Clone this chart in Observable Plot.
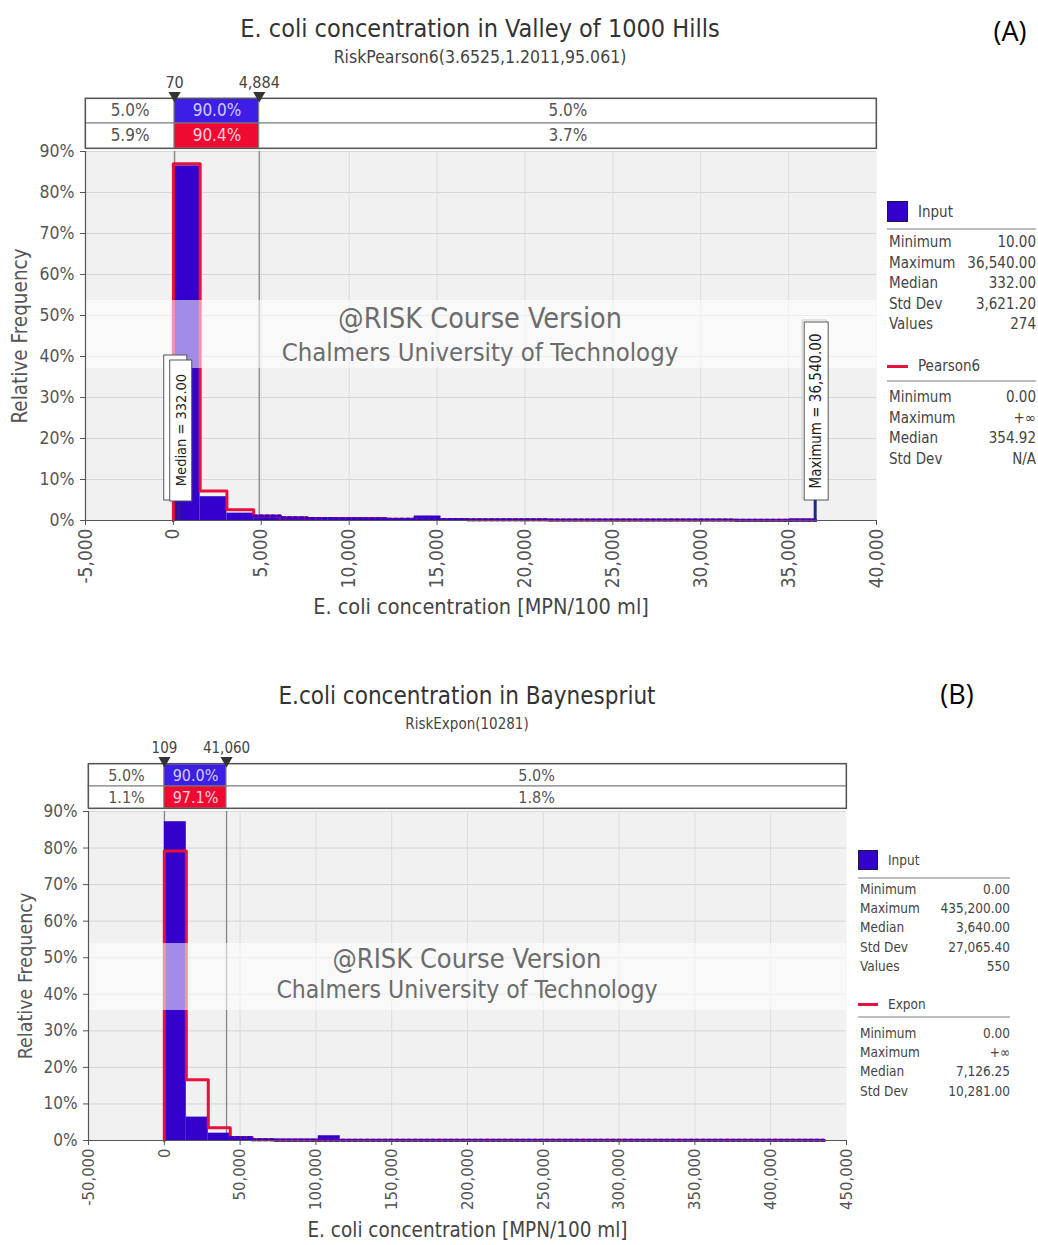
<!DOCTYPE html>
<html>
<head>
<meta charset="utf-8">
<script src="https://cdn.jsdelivr.net/npm/d3@7"></script>
<script src="https://cdn.jsdelivr.net/npm/@observablehq/plot@0.6"></script>
<style>
  body { margin: 0; background: #ffffff; }
  #root { position: relative; width: 1038px; height: 1245px; overflow: hidden; background: #ffffff;
          font-family: "DejaVu Sans Condensed", "DejaVu Sans", sans-serif; font-stretch: condensed; color: #444; }
  .t { position: absolute; white-space: nowrap; }
</style>
</head>
<body>
<div id="root"></div>
<script>
// ---------------- DATA ----------------
const yTicks = [0, 10, 20, 30, 40, 50, 60, 70, 80, 90];

// Panel A
const titleA = "E. coli concentration in Valley of 1000 Hills";
const subtitleA = "RiskPearson6(3.6525,1.2011,95.061)";
const xTicksA = [-5000, 0, 5000, 10000, 15000, 20000, 25000, 30000, 35000, 40000];
const binWidthA = 1522.5;
const inputA = [86.5, 5.8, 1.8, 0.7, 0.7, 0.4, 0.7, 0.7, 0.4, 1.1, 0, 0, 0, 0, 0, 0, 0, 0, 0, 0, 0, 0, 0, 0.4];
const fitA   = [87.0, 7.2, 2.6, 1.1, 0.7, 0.5, 0.4, 0.35, 0.3, 0.25, 0.22, 0.2, 0.18, 0.16, 0.15, 0.14, 0.13, 0.12, 0.11, 0.1, 0.1, 0.09, 0.09, 0.08];
const cutsA = [70, 4884];
const tableInputA = ["5.0%", "90.0%", "5.0%"];
const tableFitA = ["5.9%", "90.4%", "3.7%"];
const medianA = 332;
const maximumA = 36540;
const fitNameA = "Pearson6";
const statsInputA = [["Minimum", "10.00"], ["Maximum", "36,540.00"], ["Median", "332.00"], ["Std Dev", "3,621.20"], ["Values", "274"]];
const statsFitA = [["Minimum", "0.00"], ["Maximum", "+\u221e"], ["Median", "354.92"], ["Std Dev", "N/A"]];

// Panel B
const titleB = "E.coli concentration in Baynespriut";
const subtitleB = "RiskExpon(10281)";
const xTicksB = [-50000, 0, 50000, 100000, 150000, 200000, 250000, 300000, 350000, 400000, 450000];
const binWidthB = 14506.67;
const inputB = [87.2, 6.4, 2.0, 0.9, 0.4, 0.4, 0.4, 1.3, 0, 0, 0, 0, 0, 0, 0, 0, 0, 0, 0, 0, 0, 0, 0, 0, 0, 0, 0, 0, 0, 0.2];
const fitB   = [79.2, 16.6, 3.5, 0.8, 0.2, 0.06, 0.05, 0.05, 0.05, 0.05, 0.05, 0.05, 0.05, 0.05, 0.05, 0.05, 0.05, 0.05, 0.05, 0.05, 0.05, 0.05, 0.05, 0.05, 0.05, 0.05, 0.05, 0.05, 0.05, 0.05];
const cutsB = [109, 41060];
const tableInputB = ["5.0%", "90.0%", "5.0%"];
const tableFitB = ["1.1%", "97.1%", "1.8%"];
const fitNameB = "Expon";
const statsInputB = [["Minimum", "0.00"], ["Maximum", "435,200.00"], ["Median", "3,640.00"], ["Std Dev", "27,065.40"], ["Values", "550"]];
const statsFitB = [["Minimum", "0.00"], ["Maximum", "+\u221e"], ["Median", "7,126.25"], ["Std Dev", "10,281.00"]];

const xLabel = "E. coli concentration [MPN/100 ml]";
const yLabel = "Relative Frequency";
const watermark1 = "@RISK Course Version";
const watermark2 = "Chalmers University of Technology";

// ---------------- STYLE ----------------
const FONT = '"DejaVu Sans Condensed", "DejaVu Sans", sans-serif';
const BLUE = "#3300cc";
const RED = "#e8103c";
const BLUE_CELL = "#3c1ee6";
const RED_CELL = "#ee0a30";

const root = document.getElementById("root");

function addText(txt, o) {
  const d = document.createElement("div");
  d.className = "t";
  d.textContent = txt;
  const lh = Math.round(o.size * 1.3);
  d.style.fontSize = o.size + "px";
  d.style.lineHeight = lh + "px";
  d.style.height = lh + "px";
  d.style.top = (o.cy - lh / 2) + "px";
  d.style.color = o.color || "#444";
  if (o.family) d.style.fontFamily = o.family;
  if (o.stretch) d.style.fontStretch = o.stretch;
  const w = o.w || 900;
  if (o.align === "left") { d.style.left = o.x + "px"; }
  else if (o.align === "right") { d.style.left = (o.x - w) + "px"; d.style.width = w + "px"; d.style.textAlign = "right"; }
  else { d.style.left = (o.x - w / 2) + "px"; d.style.width = w + "px"; d.style.textAlign = "center"; }
  root.appendChild(d);
  return d;
}
function addBox(o) {
  const d = document.createElement("div");
  d.style.position = "absolute";
  d.style.left = o.left + "px"; d.style.top = o.top + "px";
  d.style.width = o.width + "px"; d.style.height = o.height + "px";
  d.style.background = o.bg || "transparent";
  if (o.border) d.style.border = o.border;
  d.style.boxSizing = "border-box";
  root.appendChild(d);
  return d;
}
function place(el, top) {
  el.style.position = "absolute";
  el.style.left = "0px";
  el.style.top = top + "px";
  root.appendChild(el);
}

// Label box (median / maximum) placed through the plot's own scales
function boxMark(b) {
  return (index, scales, values, dim) => {
    const px = scales.x(b.value);
    const ay = scales.y(0);
    const g = d3.create("svg:g");
    for (const r of b.rects) {
      g.append("rect")
        .attr("x", px + r.dx).attr("y", ay - r.top)
        .attr("width", r.w).attr("height", r.top - r.bottom)
        .attr("fill", "#ffffff").attr("stroke", r.stroke || "#555").attr("stroke-width", 1);
    }
    g.append("line").attr("x1", px).attr("x2", px)
      .attr("y1", ay - b.stemFrom).attr("y2", ay)
      .attr("stroke", b.stemColor).attr("stroke-width", b.stemWidth);
    g.append("text")
      .attr("transform", `translate(${px + b.tdx},${ay - b.tcy}) rotate(-90)`)
      .attr("text-anchor", "middle").attr("dominant-baseline", "central")
      .attr("font-family", FONT).attr("font-size", b.size).attr("fill", "#222")
      .text(b.text);
    return g.node();
  };
}

// Translucent watermark band across the plot frame (drawn over bars, under label boxes)
function bandMark(top, h) {
  return (index, scales, values, dim) => {
    const g = d3.create("svg:g");
    g.append("rect")
      .attr("x", dim.marginLeft).attr("y", top)
      .attr("width", dim.width - dim.marginLeft - dim.marginRight).attr("height", h)
      .attr("fill", "#ffffff").attr("fill-opacity", 0.55);
    return g.node();
  };
}

function buildPanel(c) {
  // titles
  addText(c.title, {x: c.cx, cy: c.titleY, size: c.titleSize, color: "#333"});
  addText(c.subtitle, {x: c.cx, cy: c.subY, size: c.subSize, color: "#444"});
  addText(c.tag, {x: c.tagX, cy: c.tagY, size: c.tagSize, color: "#000", family: '"Open Sans", "Noto Sans", sans-serif', stretch: "normal", w: 80});

  // --- table strip (shares x scale settings with the main plot) ---
  const rows = ["Input", "Fit"];
  const bounds = [c.xDomain[0], c.cuts[0], c.cuts[1], c.xDomain[1]];
  const cells = [];
  rows.forEach((r, ri) => {
    const labels = c.table[ri];
    for (let k = 0; k < 3; k++) cells.push({row: r, ri, k, x1: bounds[k], x2: bounds[k + 1], label: labels[k]});
  });
  const table = Plot.plot({
    width: 1038, height: 28 + c.tableH,
    marginTop: 28, marginBottom: 0, marginLeft: c.ml, marginRight: c.mr,
    x: {domain: c.xDomain, axis: null},
    y: {domain: rows, axis: null, padding: 0},
    style: {fontFamily: FONT, background: "transparent", overflow: "visible", color: "#444"},
    marks: [
      Plot.barX(cells, {x1: "x1", x2: "x2", y: "row",
        fill: d => d.k === 1 ? (d.ri === 0 ? BLUE_CELL : RED_CELL) : "#ffffff",
        stroke: "#7a7a7a", strokeWidth: 1}),
      Plot.text(cells, {x: d => (d.x1 + d.x2) / 2, y: "row", text: "label", fontSize: c.cellSize,
        fill: d => d.k === 1 ? (d.ri === 0 ? "#cfcfff" : "#ffd0d8") : "#555"}),
      Plot.frame({stroke: "#555", strokeWidth: 1.2}),
      Plot.dot(c.cuts, {x: d => d, frameAnchor: "top", dy: -3, symbol: "triangle", rotate: 180, r: 4.5, fill: "#333", stroke: null}),
      Plot.text(c.cuts, {x: d => d, frameAnchor: "top", lineAnchor: "middle", dy: c.cutDy, text: d => d.toLocaleString("en-US"), fontSize: c.cutSize, fill: "#444"})
    ]
  });
  place(table, c.tableTop);

  // --- main histogram ---
  const n = c.input.length, bw = c.binWidth;
  const bars = c.input.map((v, i) => ({x1: i * bw, x2: (i + 1) * bw, v}));
  const pts = c.fit.map((v, i) => ({x: i * bw, v}));
  const step = [{x: 0, v: 0}, ...pts, {x: n * bw, v: 0}];
  const tail = [...pts.slice(c.tailFrom), {x: n * bw, v: c.fit[n - 1]}];

  const main = Plot.plot({
    width: 1038, height: 3 + c.frameH + 100,
    marginTop: 3, marginBottom: 100, marginLeft: c.ml, marginRight: c.mr,
    x: {domain: c.xDomain},
    y: {domain: [0, 90]},
    style: {fontFamily: FONT, background: "transparent", overflow: "visible", color: "#555"},
    marks: [
      Plot.frame({fill: "#f1f1f1", stroke: null}),
      Plot.gridY(yTicks.slice(1), {stroke: "#d6d6d6", strokeOpacity: 1}),
      Plot.gridX(c.xTicks.slice(1, -1), {stroke: "#dddddd", strokeOpacity: 1}),
      Plot.ruleX(c.cuts, {stroke: "#858585", strokeWidth: 1.3}),
      Plot.rectY(bars, {x1: "x1", x2: "x2", y: "v", fill: BLUE}),
      Plot.line(step, {x: "x", y: "v", curve: "step-after", stroke: RED, strokeWidth: 3}),
      Plot.line(tail, {x: "x", y: "v", curve: "step-after", stroke: BLUE, strokeWidth: 3, strokeDasharray: "3,3"}),
      bandMark(c.band.top - c.mainTop, c.band.h),
      ...c.boxes.map(boxMark),
      Plot.ruleY([0], {stroke: "#555", strokeWidth: 1.2}),
      Plot.ruleX([c.xDomain[0]], {stroke: "#555", strokeWidth: 1.2}),
      Plot.axisY(yTicks, {tickFormat: d => d + "%", fontSize: c.yTickSize, tickSize: 5, tickPadding: 6, label: null, fill: "#555", stroke: "#555"}),
      Plot.axisX(c.xTicks, {tickFormat: d => d.toLocaleString("en-US"), tickRotate: -90, fontSize: c.tickSize, tickSize: 5, tickPadding: 3, label: null, fill: "#555", stroke: "#555"}),
      Plot.text([yLabel], {frameAnchor: "left", textAnchor: "middle", lineAnchor: "middle", dx: c.yLabelDx, rotate: -90, fontSize: c.yLabelSize, fill: "#555"}),
      Plot.text([xLabel], {frameAnchor: "bottom", lineAnchor: "middle", dy: c.xLabelDy, fontSize: c.xLabelSize, fill: "#444"})
    ]
  });
  place(main, c.mainTop);

  // --- watermark text ---
  const W = c.band;
  addText(watermark1, {x: c.cx, cy: W.l1, size: W.s1, color: "#6c6c6c"});
  addText(watermark2, {x: c.cx, cy: W.l2, size: W.s2, color: "#6c6c6c"});

  // --- legend ---
  const L = c.legend;
  const lw = L.right - L.left;
  addBox({left: L.left, top: L.top, width: L.sw, height: L.sw, bg: BLUE, border: "1px solid #1a1a3a"});
  addText("Input", {x: L.left + L.textDx, cy: L.top + L.sw / 2, size: L.size, align: "left"});
  addBox({left: L.left, top: L.top + L.hr1, width: lw, height: 2, bg: "#bdbdbd"});
  c.stats1.forEach((s, i) => {
    const cy = L.top + L.rows1 + i * L.step;
    addText(s[0], {x: L.left + 2, cy, size: L.size, align: "left"});
    addText(s[1], {x: L.right, cy, size: L.size, align: "right", w: 120});
  });
  addBox({left: L.left, top: L.top + L.line - 1.5, width: L.sw, height: 3, bg: RED});
  addText(c.fitName, {x: L.left + L.textDx, cy: L.top + L.line, size: L.size, align: "left"});
  addBox({left: L.left, top: L.top + L.hr2, width: lw, height: 2, bg: "#bdbdbd"});
  c.stats2.forEach((s, i) => {
    const cy = L.top + L.rows2 + i * L.step;
    addText(s[0], {x: L.left + 2, cy, size: L.size, align: "left"});
    addText(s[1], {x: L.right, cy, size: L.size, align: "right", w: 120});
  });
}

buildPanel({
  title: titleA, subtitle: subtitleA, tag: "(A)",
  cx: 480, titleY: 28, titleSize: 25, subY: 57, subSize: 17.5,
  tagX: 1010, tagY: 30, tagSize: 27,
  ml: 85, mr: 162,
  tableTop: 70, tableH: 50, mainTop: 148, frameH: 369,
  xDomain: [-5000, 40000], xTicks: xTicksA,
  binWidth: binWidthA, input: inputA, fit: fitA, tailFrom: 3,
  cuts: cutsA, table: [tableInputA, tableFitA],
  cellSize: 17, cutSize: 16, cutDy: -16,
  tickSize: 19, yTickSize: 17.5, yLabelSize: 20.5, yLabelDx: -65, xLabelSize: 21.5, xLabelDy: 87,
  boxes: [
    {value: medianA, text: "Median = 332.00", size: 14.5,
     rects: [{dx: -15, top: 165, bottom: 20, w: 23}, {dx: -9, top: 160, bottom: 19, w: 22}],
     tdx: 2, tcy: 90, stemFrom: 19, stemColor: "#2a2a70", stemWidth: 1.5},
    {value: maximumA, text: "Maximum = 36,540.00", size: 15,
     rects: [{dx: -13, top: 200, bottom: 22, w: 24, stroke: "#cccccc"}, {dx: -11, top: 198, bottom: 20, w: 24}],
     tdx: 1, tcy: 109, stemFrom: 20, stemColor: "#1c2a86", stemWidth: 3}
  ],
  band: {top: 300, h: 68, l1: 318, l2: 352, s1: 28.5, s2: 25.5},
  fitName: fitNameA, stats1: statsInputA, stats2: statsFitA,
  legend: {left: 887, right: 1036, top: 201, sw: 21, textDx: 31, size: 15, hr1: 27, rows1: 41, step: 20.6, line: 165, hr2: 179, rows2: 196}
});

buildPanel({
  title: titleB, subtitle: subtitleB, tag: "(B)",
  cx: 467, titleY: 696, titleSize: 24, subY: 724, subSize: 15,
  tagX: 957, tagY: 693, tagSize: 27,
  ml: 88, mr: 192,
  tableTop: 735, tableH: 45, mainTop: 808, frameH: 329,
  xDomain: [-50000, 450000], xTicks: xTicksB,
  binWidth: binWidthB, input: inputB, fit: fitB, tailFrom: 3,
  cuts: cutsB, table: [tableInputB, tableFitB],
  cellSize: 16, cutSize: 15, cutDy: -15,
  tickSize: 16.5, yTickSize: 17, yLabelSize: 19.5, yLabelDx: -63, xLabelSize: 20.5, xLabelDy: 90,
  boxes: [],
  band: {top: 943, h: 67, l1: 958, l2: 990, s1: 27, s2: 24.5},
  fitName: fitNameB, stats1: statsInputB, stats2: statsFitB,
  legend: {left: 858, right: 1010, top: 850, sw: 20, textDx: 30, size: 13.5, hr1: 27, rows1: 39, step: 19.2, line: 154, hr2: 166, rows2: 183}
});
</script>
</body>
</html>
